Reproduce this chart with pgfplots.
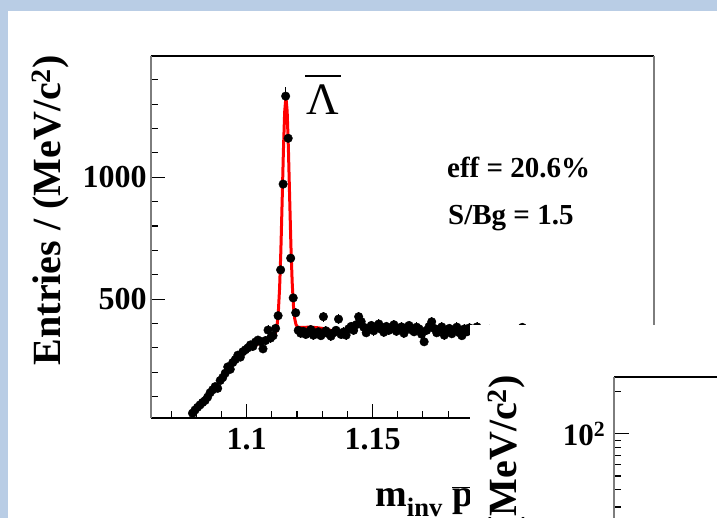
\documentclass[border=0pt]{standalone}
\usepackage{pgfplots}
\pgfplotsset{compat=1.18}
\usepackage{pgfplotstable}
\usepackage{fontspec}
\setmainfont{Liberation Serif}
\definecolor{slideblue}{RGB}{185,205,229}
\definecolor{framegray}{RGB}{125,125,125}

% invariant mass spectrum, 1 MeV bins: bin centre (GeV/c^2), entries
\pgfplotstableread{
m n
1.0785 32
1.0795 45
1.0805 56
1.0815 66
1.0825 76
1.0835 84
1.0845 98
1.0855 116
1.0865 128
1.0875 141
1.0885 134
1.0895 166
1.0905 178
1.0915 196
1.0925 222
1.0935 212
1.0945 240
1.0955 252
1.0965 270
1.0975 262
1.0985 284
1.0995 292
1.1005 300
1.1015 312
1.1025 306
1.1035 324
1.1045 332
1.1055 326
1.1065 296
1.1075 330
1.1085 373
1.1095 340
1.1105 350
1.1115 380
1.1125 432
1.1135 620
1.1145 972
1.1155 1333
1.1165 1160
1.1175 668
1.1185 505
1.1195 444
1.1205 372
1.1215 360
1.1225 368
1.1235 355
1.1245 362
1.1255 375
1.1265 352
1.1275 358
1.1285 366
1.1295 350
1.1305 428
1.1315 370
1.1325 358
1.1335 348
1.1345 362
1.1355 372
1.1365 418
1.1375 355
1.1385 365
1.1395 352
1.1405 378
1.1415 388
1.1425 372
1.1435 395
1.1445 428
1.1455 408
1.1465 385
1.1475 362
1.1485 380
1.1495 392
1.1505 370
1.1515 384
1.1525 398
1.1535 376
1.1545 364
1.1555 388
1.1565 372
1.1575 380
1.1585 395
1.1595 368
1.1605 378
1.1615 386
1.1625 360
1.1635 382
1.1645 392
1.1655 374
1.1665 366
1.1675 385
1.1685 378
1.1695 356
1.1705 325
1.1715 372
1.1725 388
1.1735 407
1.1745 380
1.1755 362
1.1765 376
1.1775 386
1.1785 352
1.1795 368
1.1805 380
1.1815 358
1.1825 374
1.1835 385
1.1845 362
1.1855 350
1.1865 378
1.1875 366
1.1885 382
1.1895 370
1.1905 362
1.1915 386
1.1925 358
1.1935 372
1.1945 366
1.1955 355
1.1965 376
1.1975 368
1.1985 360
1.1995 374
1.2005 352
1.2015 368
1.2025 362
1.2035 375
1.2045 358
1.2055 366
1.2065 348
1.2075 370
1.2085 362
1.2095 384
1.2105 356
1.2115 368
1.2125 360
1.2135 372
1.2145 350
1.2155 364
1.2165 358
1.2175 370
1.2185 346
1.2195 362
1.2205 356
1.2215 368
1.2225 352
1.2235 360
1.2245 372
1.2255 348
1.2265 358
1.2275 366
1.2285 354
1.2295 362
1.2305 344
1.2315 358
1.2325 366
1.2335 350
1.2345 356
1.2355 362
1.2365 348
1.2375 358
1.2385 342
1.2395 354
1.2405 362
1.2415 350
1.2425 346
1.2435 358
1.2445 340
1.2455 352
1.2465 356
1.2475 344
1.2485 350
1.2495 360
1.2505 338
1.2515 348
1.2525 354
1.2535 342
1.2545 350
1.2555 336
1.2565 346
1.2575 352
1.2585 340
1.2595 348
1.2605 334
1.2615 344
}\lambdadata

\begin{document}
\begin{tikzpicture}
\useasboundingbox (0pt,0pt) rectangle (717pt,518pt);
\begin{scope}
\clip (0pt,0pt) rectangle (717pt,518pt);
\fill[white] (0pt,0pt) rectangle (717pt,518pt);

% upper-left pad: anti-Lambda peak
\begin{axis}[
  at={(150.7pt,100.3pt)}, anchor=south west,
  scale only axis, width=503.3pt, height=361.7pt,
  xmin=1.0619, xmax=1.2618, ymin=13.5, ymax=1497.7,
  xtick={1.1,1.15,1.2,1.25}, xticklabels={1.1,1.15,1.2,1.25},
  minor xtick={1.07,1.08,1.09,1.11,1.12,1.13,1.14,1.16,1.17,1.18,1.19,1.21,1.22,1.23,1.24,1.26},
  ytick={500,1000}, yticklabels={500,1000},
  minor ytick={100,200,300,400,600,700,800,900,1100,1200,1300,1400},
  tick pos=left, tick align=inside,
  major tick length=14pt, minor tick length=7pt,
  tick style={black, line width=1.1pt},
  separate axis lines,
  axis line style={line width=1.7pt},
  x axis line style={black},
  y axis line style={framegray},
  tick label style={font=\fontsize{32}{32}\selectfont\bfseries},
  yticklabel style={anchor=east, inner sep=0pt, xshift=-4pt},
  xticklabel style={anchor=north, inner sep=0pt, yshift=-10pt},
]
\addplot[only marks, black, mark=*, mark size=4.3pt, mark options={fill=black},
  error bars/.cd, y dir=both, y explicit, error mark=none,
  error bar style={black, line width=1pt}]
  table[x=m, y=n, y error expr=sqrt(\thisrow{n})] {\lambdadata};
% fitted signal + background
\addplot[red, line width=3pt, line join=round] coordinates {
(1.0894,170) (1.0905,184) (1.0915,198) (1.0925,211) (1.0935,224)
(1.0945,236) (1.0955,245) (1.0965,254) (1.0975,263) (1.0985,272)
(1.0995,281) (1.1005,290) (1.1015,299) (1.1025,305) (1.1035,311)
(1.1045,316) (1.1055,321) (1.1065,325) (1.1075,330) (1.1085,335)
(1.1095,340) (1.1100,342) (1.1106,348) (1.1111,353) (1.1116,365)
(1.1121,392) (1.1126,448) (1.1131,547) (1.1136,700) (1.1141,899)
(1.1146,1106) (1.1151,1267) (1.1156,1330) (1.1161,1271) (1.1166,1114)
(1.1171,911) (1.1176,716) (1.1181,567) (1.1186,472) (1.1191,420)
(1.1196,396) (1.1201,387) (1.1206,384) (1.1220,384) (1.1250,385)
(1.1280,383) (1.1300,380) (1.1320,376) (1.1340,370) (1.1360,363)
(1.1380,357) (1.1395,352)
};
\end{axis}

\node[anchor=base west, inner sep=0pt, font=\fontsize{45}{45}\selectfont] at (306pt,403pt) {Λ};
\draw[line width=2pt] (305pt,441.5pt) -- (341pt,441.5pt);
\node[anchor=base west, inner sep=0pt, font=\fontsize{29}{29}\selectfont\bfseries] at (447pt,340pt) {eff = 20.6\%};
\node[anchor=base west, inner sep=0pt, font=\fontsize{29}{29}\selectfont\bfseries] at (448pt,293pt) {S/Bg = 1.5};
\node[anchor=base east, inner sep=0pt, rotate=90, font=\fontsize{40}{40}\selectfont\bfseries] at (60pt,463pt) {Entries / (MeV/c\textsuperscript{2})};
\node[anchor=base west, inner sep=0pt, font=\fontsize{38}{38}\selectfont\bfseries] at (375pt,11pt) {m\textsubscript{inv} $\overline{\hbox{p}}$π\textsuperscript{+}};

% lower-right pad, drawn over the first one
\fill[white] (470pt,0pt) rectangle (717pt,192.5pt);
\begin{axis}[
  at={(614.3pt,141.3pt)}, anchor=north west,
  scale only axis, width=220pt, height=223.3pt,
  ymode=log, ymin=6.5, ymax=256, xmin=0, xmax=1,
  xtick=\empty, ytick={100}, yticklabels={10\textsuperscript{2}},
  minor ytick={10,20,30,40,50,60,70,80,90,200},
  tick pos=left, tick align=inside,
  major tick length=15pt, minor tick length=7pt,
  tick style={black, line width=1.1pt},
  separate axis lines,
  axis line style={line width=1.7pt},
  x axis line style={black},
  y axis line style={framegray},
  tick label style={font=\fontsize{31}{31}\selectfont\bfseries},
  yticklabel style={anchor=east, inner sep=0pt, xshift=-9pt},
]
\addplot[draw=none] coordinates {(0.5,50)};
\end{axis}
\node[anchor=base east, inner sep=0pt, rotate=90, font=\fontsize{40}{40}\selectfont\bfseries] at (516pt,143pt) {Entries / (MeV/c\textsuperscript{2})};

% slide border
\fill[slideblue] (0pt,507pt) rectangle (717pt,518pt);
\fill[slideblue] (0pt,0pt) rectangle (8pt,518pt);
\end{scope}
\end{tikzpicture}
\end{document}
